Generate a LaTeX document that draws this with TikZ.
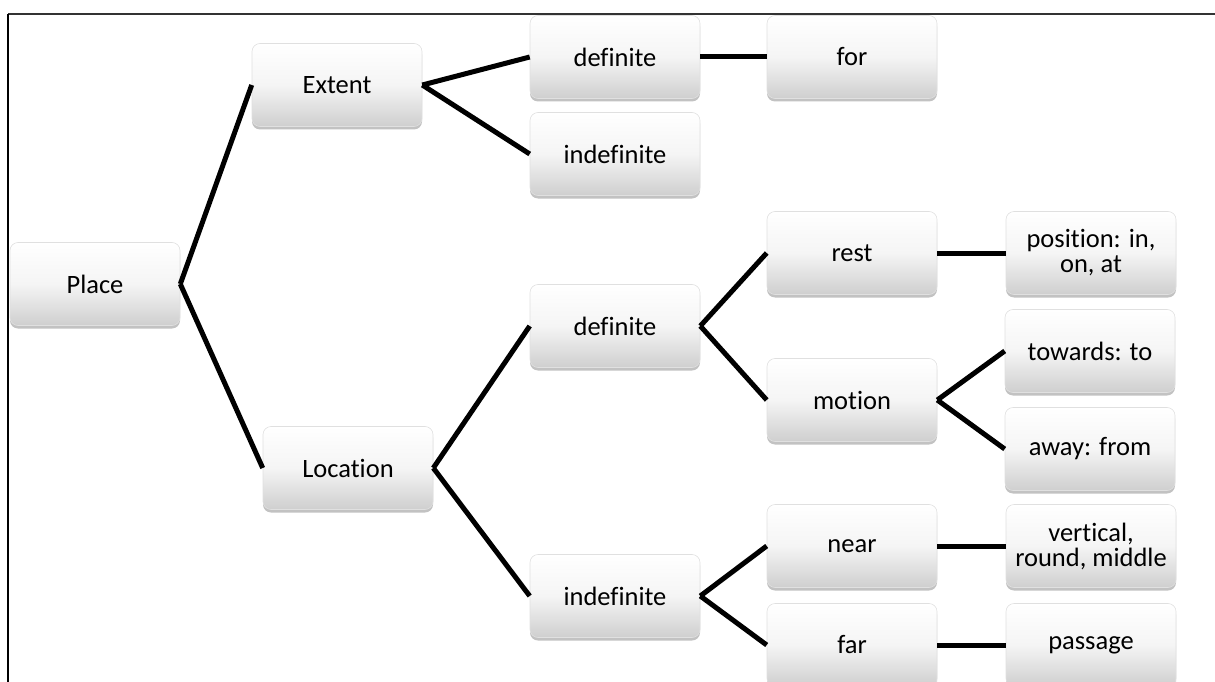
\documentclass[tikz,border=0pt]{standalone}
\usepackage{fontspec}
\setmainfont{Carlito}[RawFeature={-liga;-clig;-dlig}]
\usetikzlibrary{shadows,shadings}
\tikzset{
  box/.style={
    rectangle, rounded corners=8pt,
    minimum width=170pt, minimum height=83pt, inner sep=0pt,
    align=center, draw=black!12, line width=0.6pt,
    top color=white, bottom color=black!19, middle color=black!4,
    drop shadow={shadow xshift=0pt, shadow yshift=-3pt, opacity=0.4, fill=black!60},
    font=\fontsize{26.5pt}{25pt}\selectfont
  },
  link/.style={line width=5pt, black}
}
\begin{document}
\begin{tikzpicture}[x=1pt, y=-1pt]
\useasboundingbox (0,0) rectangle (1215,682);
% frame
\draw[line width=2pt, black!80] (8,14) -- (1215,14);
\draw[line width=2.5pt, black] (8,14) -- (8,682);

% nodes
\node[box] (place) at (95,284) {Place};
\node[box] (extent) at (337,85) {Extent};
\node[box] (location) at (348,468) {Location};
\node[box] (defA) at (615,57) {definite};
\node[box] (indefA) at (615,154) {indefinite};
\node[box] (for) at (852,57) {for};
\node[box] (defB) at (615,326) {definite};
\node[box] (indefB) at (615,596) {indefinite};
\node[box] (rest) at (852,253) {rest};
\node[box] (motion) at (852,400) {motion};
\node[box] (near) at (852,546) {near};
\node[box] (far) at (852,645) {far};
\node[box] (position) at (1091,253) {position: in,\\on, at};
\node[box] (towards) at (1090,351) {towards: to};
\node[box] (away) at (1090,449) {away: from};
\node[box] (vertical) at (1091,546) {vertical,\\round, middle};
\node[box] (passage) at (1091,645) {passage};

% connectors
\draw[link] (place.east) -- (extent.west);
\draw[link] (place.east) -- (location.west);
\draw[link] (extent.east) -- (defA.west);
\draw[link] (extent.east) -- (indefA.west);
\draw[link] (defA.east) -- (for.west);
\draw[link] (location.east) -- (defB.west);
\draw[link] (location.east) -- (indefB.west);
\draw[link] (defB.east) -- (rest.west);
\draw[link] (defB.east) -- (motion.west);
\draw[link] (rest.east) -- (position.west);
\draw[link] (motion.east) -- (towards.west);
\draw[link] (motion.east) -- (away.west);
\draw[link] (indefB.east) -- (near.west);
\draw[link] (indefB.east) -- (far.west);
\draw[link] (near.east) -- (vertical.west);
\draw[link] (far.east) -- (passage.west);
\end{tikzpicture}
\end{document}
